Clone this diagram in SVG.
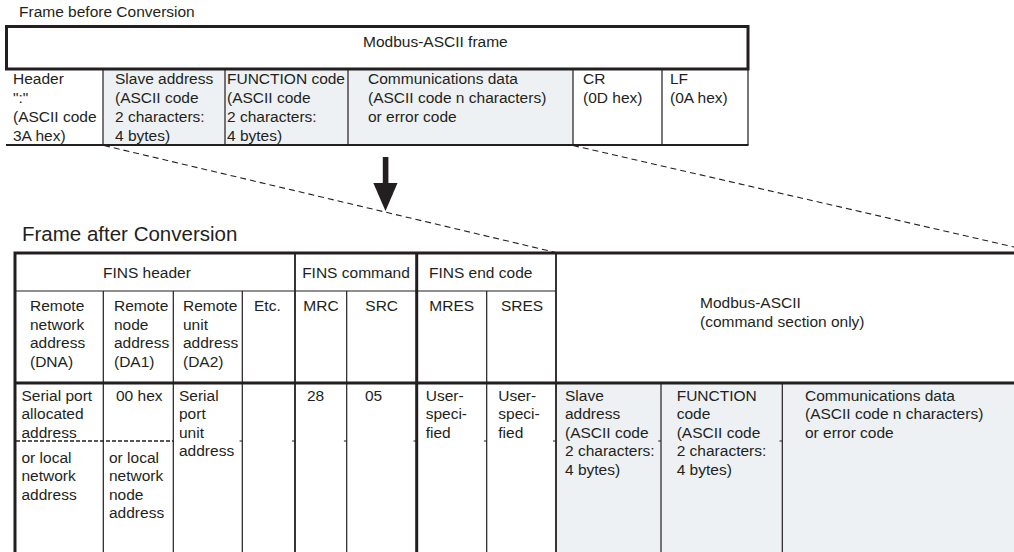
<svg xmlns="http://www.w3.org/2000/svg" width="1014" height="552" viewBox="0 0 1014 552">
<style>
.t{font-family:"Liberation Sans",Arial,Helvetica,sans-serif;font-size:15.5px;fill:#231f20}
.h2{font-size:20.5px}
.thick{stroke:#231f20;stroke-width:3;fill:none}
.med{stroke:#231f20;stroke-width:1.8;fill:none}
.thin{stroke:#231f20;stroke-width:1.2;fill:none}
.dash{stroke:#231f20;stroke-width:1.1;fill:none;stroke-dasharray:6 4}
.sdash{stroke:#231f20;stroke-width:1.5;fill:none;stroke-dasharray:4 2}
.shade{fill:#eef1f3}
</style>
<rect width="1014" height="552" fill="#ffffff"/>

<g id="title-before"><text class="t" x="19" y="17">Frame before Conversion</text></g>

<g id="frame-before">
  <rect class="shade" x="103" y="69" width="470" height="76"/>
  <g id="fb-grid">
    <path class="thick" d="M5,26.5H749.5M6.5,25V70M748,25V70M5,69H749.5"/>
    <path class="thin" d="M103,69V145M225,69V145M348,69V145M573,69V145M662,69V145M748,69V145"/>
    <path class="med" d="M6,145H748.5"/>
  </g>
  <g id="fb-modbus"><text class="t" x="363" y="47">Modbus-ASCII frame</text></g>
  <g id="fb-header"><text class="t"><tspan x="13" y="84">Header</tspan><tspan x="13" y="103">":"</tspan><tspan x="13" y="122">(ASCII code</tspan><tspan x="13" y="141">3A hex)</tspan></text></g>
  <g id="fb-slave"><text class="t"><tspan x="115" y="84">Slave address</tspan><tspan x="115" y="103">(ASCII code</tspan><tspan x="115" y="122">2 characters:</tspan><tspan x="115" y="141">4 bytes)</tspan></text></g>
  <g id="fb-function"><text class="t"><tspan x="227" y="84">FUNCTION code</tspan><tspan x="227" y="103">(ASCII code</tspan><tspan x="227" y="122">2 characters:</tspan><tspan x="227" y="141">4 bytes)</tspan></text></g>
  <g id="fb-data"><text class="t"><tspan x="368" y="84">Communications data</tspan><tspan x="368" y="103">(ASCII code n characters)</tspan><tspan x="368" y="122">or error code</tspan></text></g>
  <g id="fb-cr"><text class="t"><tspan x="583" y="84">CR</tspan><tspan x="583" y="103">(0D hex)</tspan></text></g>
  <g id="fb-lf"><text class="t"><tspan x="670" y="84">LF</tspan><tspan x="670" y="103">(0A hex)</tspan></text></g>
</g>

<g id="connectors">
  <path class="dash" d="M104,145.5L556,252.5"/>
  <path class="dash" d="M573,145.5L1014,247"/>
  <g id="arrow">
    <rect x="382.8" y="157" width="5.6" height="27" fill="#231f20"/>
    <polygon points="373.3,183 397.5,183 385.5,211" fill="#231f20"/>
  </g>
</g>

<g id="title-after"><text class="t h2" x="22" y="241">Frame after Conversion</text></g>

<g id="frame-after">
  <rect class="shade" x="556" y="383" width="458" height="169"/>
  <g id="fa-grid">
    <path class="thick" d="M13.5,253H1014M15,251.5V552M13.5,383H1014M416.7,253V552"/>
    <path class="med" d="M295,253V552M556,253V552"/>
    <path class="thin" d="M15,291H556M103.3,291V552M173.3,291V552M242.3,291V552M346.7,291V552M486.7,291V552M661,383V552M782.3,383V552"/>
    <path class="sdash" d="M16,441H173.3"/>
    <path class="thin" d="M239.5,441H242.3M292,441H295M343.9,441H346.7M413.5,441H416.7M483.9,441H486.7M553,441H556M658.2,441H661M779.5,441H782.3"/>
  </g>
  <g id="fa-fins-header"><text class="t" x="103" y="278">FINS header</text></g>
  <g id="fa-fins-command"><text class="t" x="356" y="278" text-anchor="middle">FINS command</text></g>
  <g id="fa-fins-end"><text class="t" x="429" y="278">FINS end code</text></g>
  <g id="fa-modbus"><text class="t"><tspan x="700" y="308">Modbus-ASCII</tspan><tspan x="700" y="327">(command section only)</tspan></text></g>

  <g id="fa-dna"><text class="t"><tspan x="30" y="311">Remote</tspan><tspan x="30" y="329.5">network</tspan><tspan x="30" y="348">address</tspan><tspan x="30" y="366.5">(DNA)</tspan></text></g>
  <g id="fa-da1"><text class="t"><tspan x="114" y="311">Remote</tspan><tspan x="114" y="329.5">node</tspan><tspan x="114" y="348">address</tspan><tspan x="114" y="366.5">(DA1)</tspan></text></g>
  <g id="fa-da2"><text class="t"><tspan x="183" y="311">Remote</tspan><tspan x="183" y="329.5">unit</tspan><tspan x="183" y="348">address</tspan><tspan x="183" y="366.5">(DA2)</tspan></text></g>
  <g id="fa-etc"><text class="t" x="254" y="311">Etc.</text></g>
  <g id="fa-mrc"><text class="t" x="321" y="311" text-anchor="middle">MRC</text></g>
  <g id="fa-src"><text class="t" x="381.7" y="311" text-anchor="middle">SRC</text></g>
  <g id="fa-mres"><text class="t" x="451.7" y="311" text-anchor="middle">MRES</text></g>
  <g id="fa-sres"><text class="t" x="522" y="311" text-anchor="middle">SRES</text></g>

  <g id="fa-dna-val"><text class="t"><tspan x="21.5" y="400.5">Serial port</tspan><tspan x="21.5" y="419">allocated</tspan><tspan x="21.5" y="437.5">address</tspan><tspan x="21.5" y="462.5">or local</tspan><tspan x="21.5" y="481">network</tspan><tspan x="21.5" y="499.5">address</tspan></text></g>
  <g id="fa-da1-val"><text class="t"><tspan x="116" y="400.5">00 hex</tspan><tspan x="109" y="462.5">or local</tspan><tspan x="109" y="481">network</tspan><tspan x="109" y="499.5">node</tspan><tspan x="109" y="518">address</tspan></text></g>
  <g id="fa-da2-val"><text class="t"><tspan x="179" y="400.5">Serial</tspan><tspan x="179" y="419">port</tspan><tspan x="179" y="437.5">unit</tspan><tspan x="179" y="456">address</tspan></text></g>
  <g id="fa-mrc-val"><text class="t" x="307" y="400.5">28</text></g>
  <g id="fa-src-val"><text class="t" x="365" y="400.5">05</text></g>
  <g id="fa-mres-val"><text class="t"><tspan x="425.7" y="400.5">User-</tspan><tspan x="425.7" y="419">speci-</tspan><tspan x="425.7" y="437.5">fied</tspan></text></g>
  <g id="fa-sres-val"><text class="t"><tspan x="498.3" y="400.5">User-</tspan><tspan x="498.3" y="419">speci-</tspan><tspan x="498.3" y="437.5">fied</tspan></text></g>
  <g id="fa-slave"><text class="t"><tspan x="565" y="400.5">Slave</tspan><tspan x="565" y="419">address</tspan><tspan x="565" y="437.5">(ASCII code</tspan><tspan x="565" y="456">2 characters:</tspan><tspan x="565" y="474.5">4 bytes)</tspan></text></g>
  <g id="fa-function"><text class="t"><tspan x="676.7" y="400.5">FUNCTION</tspan><tspan x="676.7" y="419">code</tspan><tspan x="676.7" y="437.5">(ASCII code</tspan><tspan x="676.7" y="456">2 characters:</tspan><tspan x="676.7" y="474.5">4 bytes)</tspan></text></g>
  <g id="fa-data"><text class="t"><tspan x="805" y="400.5">Communications data</tspan><tspan x="805" y="419">(ASCII code n characters)</tspan><tspan x="805" y="437.5">or error code</tspan></text></g>
</g>
</svg>
